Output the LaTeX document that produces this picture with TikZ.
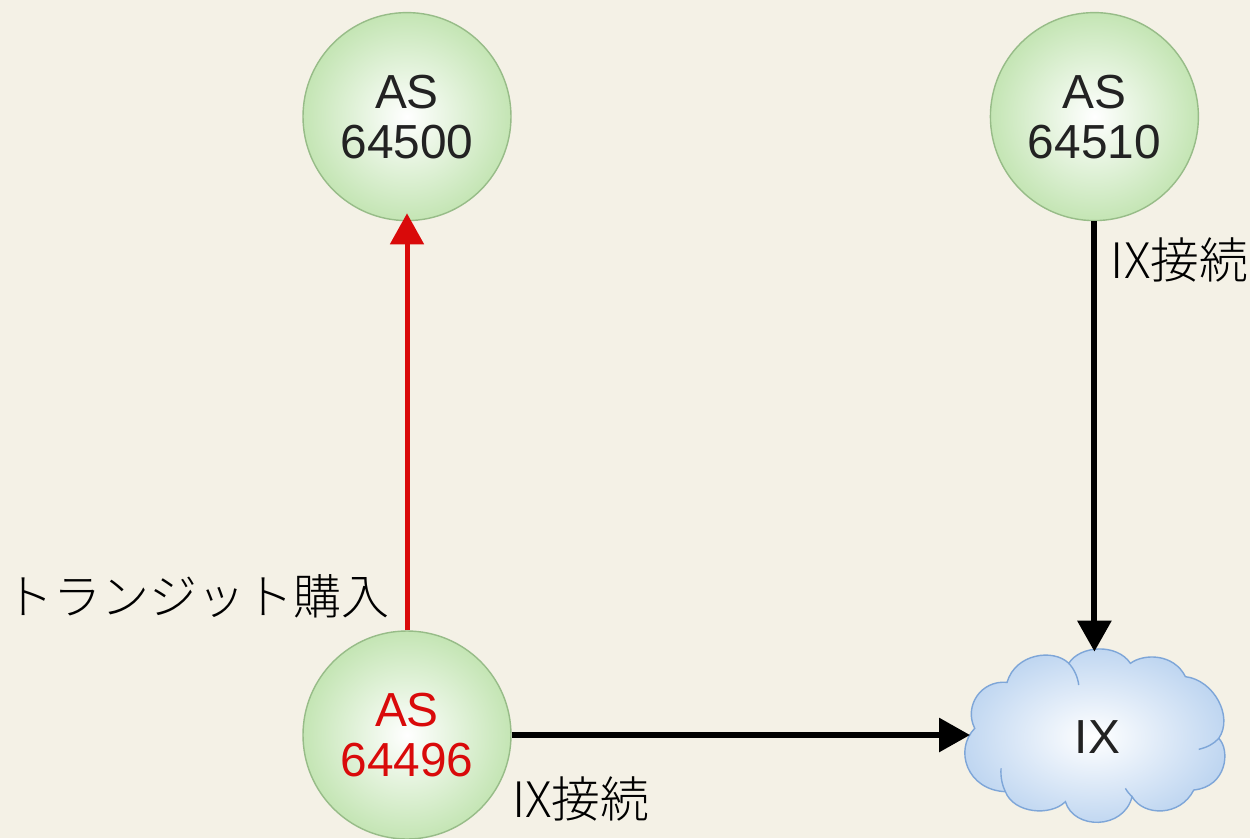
\documentclass[tikz,border=0pt]{standalone}
\usepackage{fontspec}
\setmainfont{Liberation Sans}
\newfontfamily\jpfont{Noto Sans CJK JP Light}
\usetikzlibrary{positioning,arrows.meta}
\definecolor{paper}{HTML}{F4F1E6}
\definecolor{asgreen}{HTML}{C4E5B4}
\definecolor{asedge}{HTML}{97BC88}
\definecolor{astext}{HTML}{222222}
\definecolor{ixblue}{HTML}{BCD4F0}
\definecolor{ixedge}{HTML}{7EA6D8}
\definecolor{buyred}{HTML}{D90A0A}
\begin{document}
\begin{tikzpicture}[
    asnode/.style={circle, draw=asedge, inner color=white, outer color=asgreen, thick, minimum size=4.16cm, inner sep=0pt, align=center, text=astext, font=\fontsize{27.2}{28.4}\selectfont},
    ixnode/.style={rectangle, minimum width=4.96cm, minimum height=3.32cm, inner sep=0pt, text=astext, font=\fontsize{27.2}{28.4}\selectfont},
    label/.style={font=\jpfont\fontsize{27.8}{30}\selectfont, inner sep=0pt},
    link/.style={-{Triangle[length=0.62cm,width=0.66cm]}, line width=0.12cm},
    ]
      \useasboundingbox (-8.14,-2.06) rectangle (16.86,14.7);
      \fill [paper] (-8.14,-2.06) rectangle (16.86,14.7);

      %Nodes
      \node[asnode]      (A)                                     {\textcolor{buyred}{AS}\\\textcolor{buyred}{64496}};
      \node[asnode]      (B)       [above=8.18cm of A]           {AS\\64500};
      \node[asnode]      (C)       [right=9.56cm of B]           {AS\\64510};
      \node[ixnode]      (D)       at (A -| C)                   {};

      %Cloud
      \begin{scope}[shift={(D.center)}, x=0.00667cm, y=-0.00667cm, shift={(-462,-345)}]
        \draw [ixedge, thick, inner color=white, outer color=ixblue]
          (385,130) .. controls (420,75) and (530,70) .. (570,130)
          .. controls (610,100) and (700,100) .. (735,170)
          .. controls (820,180) and (880,290) .. (835,355)
          .. controls (870,390) and (860,500) .. (760,510)
          .. controls (720,590) and (610,590) .. (575,530)
          .. controls (550,630) and (400,630) .. (375,545)
          .. controls (330,590) and (220,580) .. (195,515)
          .. controls (80,510) and (40,390) .. (103,325)
          .. controls (70,260) and (120,180) .. (200,187)
          .. controls (225,100) and (340,85) .. (385,130) -- cycle;
        \draw [ixedge, thick] (385,130) .. controls (400,145) and (412,170) .. (415,195);
        \draw [ixedge, thick] (835,355) .. controls (820,372) and (800,382) .. (775,388);
        \draw [ixedge, thick] (195,515) .. controls (185,495) and (180,470) .. (182,445);
        \draw [ixedge, thick] (575,530) .. controls (570,525) and (560,515) .. (555,505);
      \end{scope}
      \node[ixnode]      (E)       [xshift=0.06cm, yshift=-0.04cm] at (D.center) {IX};

      %Labels
      \node[label, font=\jpfont\fontsize{27.3}{30}\selectfont] (F) [above left=0.24cm and 0.34cm of A.north]  {トランジット購入};
      \node[label]       (G)       [below right=0.32cm and 0.32cm of C.south] {IX接続};
      \node[label]       (H)       [below right=0.83cm and 0cm of A.east]     {IX接続};

      %Lines
      \draw[link, line width=0.1cm, buyred, shorten >=-0.16cm] (A.north)  to (B.south);
      \draw[link] (C.south)  to (D.north);
      \draw[link] (A.east)  to (D.west);
    \end{tikzpicture}
\end{document}
